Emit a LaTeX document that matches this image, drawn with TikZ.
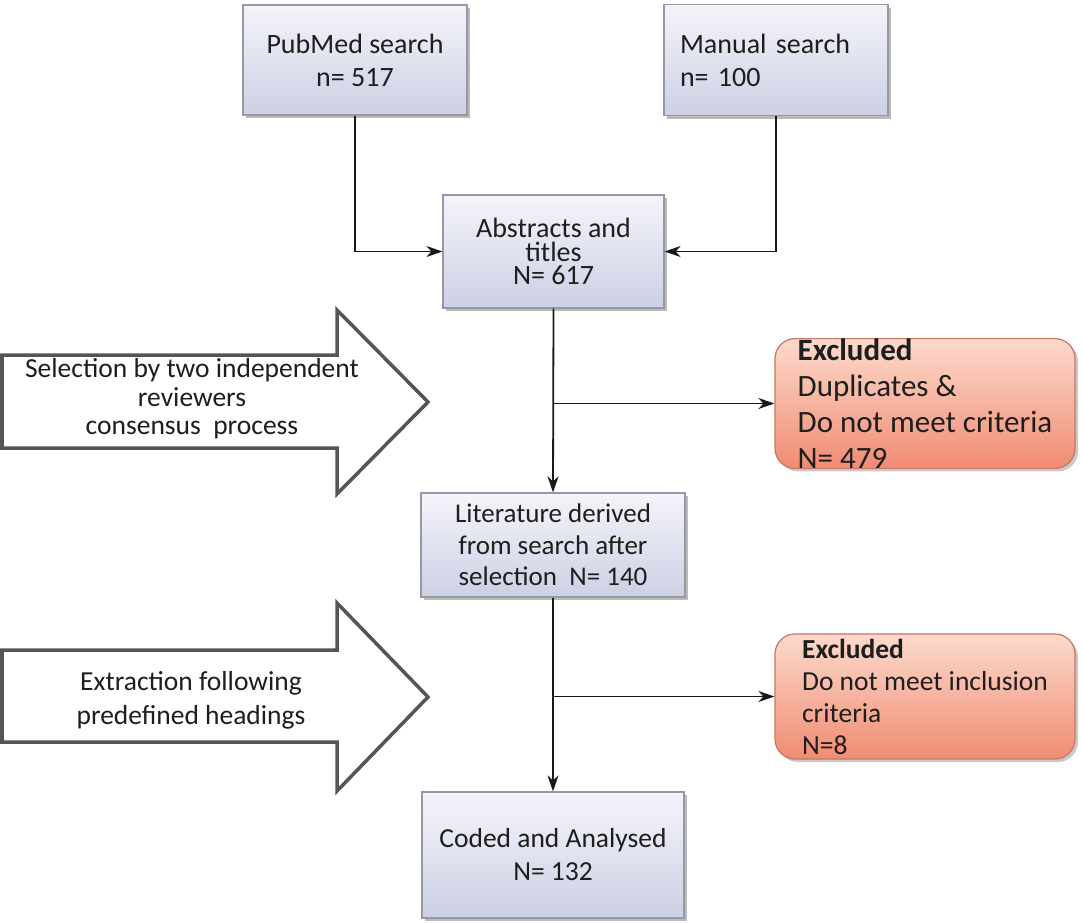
\documentclass[tikz,border=0pt]{standalone}
\usepackage{fontspec}
\setmainfont{Carlito}
\usetikzlibrary{arrows.meta,shadows}
\definecolor{boxtop}{RGB}{244,244,250}
\definecolor{boxbot}{RGB}{204,208,228}
\definecolor{boxline}{RGB}{150,152,165}
\definecolor{extop}{RGB}{252,218,204}
\definecolor{exbot}{RGB}{240,140,115}
\definecolor{exline}{RGB}{200,118,98}
\definecolor{txt}{RGB}{30,30,30}
\definecolor{arrline}{RGB}{85,85,85}
\tikzset{
  flowbox/.style={draw=boxline, line width=1.2pt, top color=boxtop, bottom color=boxbot,
    text=txt, inner sep=0pt, align=center,
    drop shadow={shadow xshift=3pt, shadow yshift=-3pt, opacity=0.45, fill=black!60}},
  exbox/.style={draw=exline, line width=1.2pt, rounded corners=20pt, top color=extop,
    bottom color=exbot, text=txt, inner sep=0pt, align=left,
    drop shadow={shadow xshift=3pt, shadow yshift=-3pt, opacity=0.35, fill=black!60}},
  conn/.style={draw=black!90, line width=1.8pt, -{Stealth[length=16pt,width=11pt,inset=5pt]}},
  plainconn/.style={draw=black!90, line width=1.8pt},
  bigarrow/.style={draw=arrline, line width=3.5pt, fill=white, line join=miter},
  arrtext/.style={text=txt, align=center, inner sep=0pt}
}
\begin{document}
\begin{tikzpicture}[x=1pt, y=-1pt]
\fill[white] (0,0) rectangle (1082,922);
\useasboundingbox (0,0) rectangle (1082,922);

% big process arrows
\draw[bigarrow] (2,355) -- (337,355) -- (337,310) -- (428,402) -- (337,494) -- (337,448) -- (2,448) -- cycle;
\node[arrtext, font=\fontsize{27.5}{28.5}\selectfont] (sel) at (192,399)
  {Selection by two independent\\reviewers\\consensus \ process};
\draw[bigarrow] (2,650) -- (337,650) -- (337,603) -- (428,697) -- (337,791) -- (337,742) -- (2,742) -- cycle;
\node[arrtext, font=\fontsize{27.5}{34}\selectfont] (ext) at (191,700)
  {Extraction following\\predefined headings};

% boxes
\node[flowbox, minimum width=224pt, minimum height=110pt, font=\fontsize{28}{33}\selectfont]
  (pub) at (355,60) {PubMed search\\n= 517};
\node[flowbox, minimum width=224pt, minimum height=111pt, text width=192pt, align=left,
  font=\fontsize{28}{33}\selectfont] (man) at (776,60) {Manual search\\n= 100};
\node[flowbox, minimum width=221pt, minimum height=113pt, font=\fontsize{28}{23.5}\selectfont]
  (abs) at (553.5,251.5) {Abstracts and\\titles\\N= 617};
\node[flowbox, minimum width=264pt, minimum height=104pt, font=\fontsize{27}{31.5}\selectfont]
  (lit) at (553,545) {Literature derived\\from search after\\selection \ N= 140};
\node[flowbox, minimum width=262pt, minimum height=126pt, font=\fontsize{27.5}{33}\selectfont]
  (cod) at (553,855) {Coded and Analysed\\N= 132};
\node[exbox, minimum width=300pt, minimum height=127pt, font=\fontsize{31}{36}\selectfont]
  (ex1) at (925,403.5) {\textbf{Excluded}\\Duplicates \&\\Do not meet criteria\\N= 479};
\node[exbox, minimum width=300pt, minimum height=125pt, font=\fontsize{27.5}{32}\selectfont]
  (ex2) at (925,696.5) {\textbf{Excluded}\\Do not meet inclusion\\criteria\\N=8};

% connectors
\draw[conn] (pub.south) |- (abs.west);
\draw[conn] (man.south) |- (abs.east);
\draw[conn] (abs.south) -- (lit.north);
\coordinate (b1) at (abs.south |- ex1.west);
\draw[conn] (b1) -- (ex1.west);
\draw[conn] (lit.south) -- (cod.north);
\coordinate (b2) at (lit.south |- ex2.west);
\draw[conn] (b2) -- (ex2.west);
\end{tikzpicture}
\end{document}
